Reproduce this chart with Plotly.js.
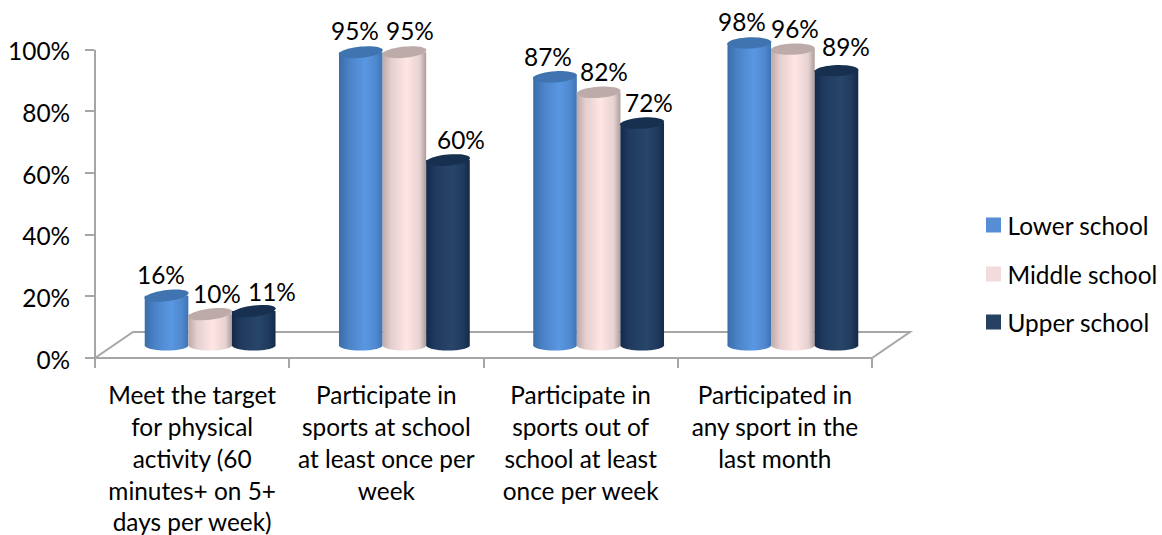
<!DOCTYPE html>
<html>
<head>
<meta charset="utf-8">
<script src="https://cdn.plot.ly/plotly-3.0.1.min.js"></script>
<style>html,body{margin:0;padding:0;background:#fff;overflow:hidden}</style>
</head>
<body>
<div id="chart" style="width:1162px;height:535px"></div>
<script>
var categories = [
  "Meet the target<br>for physical<br>activity (60<br>minutes+ on 5+<br>days per week)",
  "Participate in<br>sports at school<br>at least once per<br>week",
  "Participate in<br>sports out of<br>school at least<br>once per week",
  "Participated in<br>any sport in the<br>last month"
];
var seriesNames = ["Lower school", "Middle school", "Upper school"];
var lowerSchool = [16, 95, 87, 98];
var middleSchool = [10, 95, 82, 96];
var upperSchool = [11, 60, 72, 89];
var yTicks = [0, 20, 40, 60, 80, 100];

var allValues = [lowerSchool, middleSchool, upperSchool];

// plot geometry
var pxPerCat = 194.25, pxPerPct = 3.08;
var plotW = 815, plotH = 338.8;
var depthX = 38, depthY = 26;
var barW = 43.6 / pxPerCat;
var shiftX = 18 / pxPerCat;
var lift = 13 / pxPerPct;
var capRx = 22, capRy = 5.6;
var font = "Lato, Carlito, sans-serif";
var fontSize = 24.4;
var txt = "#000";
var grey = "#A6A6A6";

var legendColors = ["#558ED5", "#F2DCDB", "#254061"];
var capColors = ["#3F74B0", "#BDABAA", "#17304F"];
var gradients = [
  [["0", "#3A6CA8"], ["0.22", "#4A82C6"], ["0.6", "#5A97E2"], ["0.85", "#4F88CE"], ["1", "#3E74B4"]],
  [["0", "#BFA9A8"], ["0.2", "#E4CFCE"], ["0.55", "#FFE6E5"], ["0.85", "#E6D2D1"], ["1", "#AD9C9B"]],
  [["0", "#14294A"], ["0.2", "#1F3A5E"], ["0.6", "#284669"], ["0.85", "#1F3A5C"], ["1", "#142A48"]]
];
var labelDx = [[-6, 7, 18], [-6, 6, 13], [-7, 5, 7], [-7, 2, 10]];
var labelDy = [21, 21, 20, 22, 22, 21, 20, 21, 21, 21, 21, 24];

// pixel-sized shape paths: positive y points up from the anchor
function ellipsePath(tilt, halfOnly) {
  var pts = [];
  var n = 40, to = halfOnly ? Math.PI : 2 * Math.PI;
  for (var i = 0; i <= n; i++) {
    var a = to * i / n;
    var cx = capRx * Math.cos(a);
    var cy = -capRy * Math.sin(a);
    pts.push((cx).toFixed(2) + "," + (cy + tilt * cx / capRx).toFixed(2));
  }
  return "M" + pts.join("L") + "Z";
}

var traces = [], shapes = [], annotations = [];

// frame: back/front floor edges and value axis
shapes.push({type: "path", xref: "paper", yref: "paper", layer: "below",
  path: "M0,0L" + (depthX / plotW) + "," + (depthY / plotH) + "L1," + (depthY / plotH) +
        "L" + (777 / plotW) + ",0Z",
  line: {color: grey, width: 2}, fillcolor: "rgba(0,0,0,0)"});
shapes.push({type: "line", xref: "paper", yref: "paper", layer: "below",
  x0: 0, x1: 0, y0: 0, y1: 100 / 110, line: {color: grey, width: 2}});

var bottomIdx = [];
allValues.forEach(function (vals, s) {
  var off = (s - 1.5) * barW + shiftX;
  traces.push({
    type: "bar", name: seriesNames[s], x: categories, y: vals, base: lift,
    offset: off, width: barW, cliponaxis: false,
    marker: {color: legendColors[s], line: {width: 0}}, hoverinfo: "skip"
  });
  vals.forEach(function (v, g) {
    var cx = g + off + barW / 2;
    bottomIdx.push([shapes.length, s]);
    shapes.push({type: "path", layer: "below", xref: "x", yref: "y",
      xsizemode: "pixel", ysizemode: "pixel", xanchor: cx, yanchor: lift,
      path: ellipsePath(0, true), line: {width: 0}, fillcolor: legendColors[s]});
  });
});
allValues.forEach(function (vals, s) {
  var off = (s - 1.5) * barW + shiftX;
  vals.forEach(function (v, g) {
    var cx = g + off + barW / 2;
    var tilt = 2.6 - 0.6 * g;
    shapes.push({type: "path", layer: "above", xref: "x", yref: "y",
      xsizemode: "pixel", ysizemode: "pixel", xanchor: cx, yanchor: v + lift,
      path: ellipsePath(tilt, false), line: {width: 0}, fillcolor: capColors[s]});
    annotations.push({xref: "x", yref: "y", x: cx, y: v + lift, text: v + "%",
      showarrow: false, xshift: labelDx[g][s], yshift: labelDy[g * 3 + s],
      font: {family: font, size: fontSize, color: txt}});
  });
});

var layout = {
  width: 1162, height: 535,
  margin: {l: 95, r: 252, t: 19.2, b: 177, pad: 0, autoexpand: false},
  paper_bgcolor: "#fff", plot_bgcolor: "rgba(0,0,0,0)",
  barmode: "overlay",
  font: {family: font, size: fontSize, color: txt},
  xaxis: {
    type: "category", categoryorder: "array", categoryarray: categories,
    range: [-0.5, -0.5 + plotW / pxPerCat], autorange: false,
    tickson: "boundaries", ticks: "outside", ticklen: 9, tickwidth: 2, tickcolor: grey,
    showgrid: false, zeroline: false, showline: false, tickangle: 0, ticklabelstandoff: 21,
    tickfont: {family: font, size: fontSize, color: txt}
  },
  yaxis: {
    range: [0, 110], autorange: false, tickmode: "array", tickvals: yTicks,
    ticktext: yTicks.map(function (t) { return t + "%"; }),
    ticks: "outside", ticklen: 9, tickwidth: 2, tickcolor: grey,
    showgrid: false, zeroline: false, showline: false, ticklabelstandoff: 10, ticklabelshift: 2,
    tickfont: {family: font, size: fontSize, color: txt}
  },
  legend: {
    xanchor: "left", yanchor: "top", traceorder: "normal",
    font: {family: font, size: fontSize, color: txt},
    bgcolor: "rgba(0,0,0,0)", borderwidth: 0
  },
  showlegend: true,
  shapes: shapes, annotations: annotations
};

Plotly.newPlot("chart", traces, layout, {displayModeBar: false, staticPlot: true}).then(function () {
  var gd = document.getElementById("chart");
  var svg = gd.querySelector(".main-svg");
  var NS = "http://www.w3.org/2000/svg";
  var defs = svg.querySelector("defs");
  gradients.forEach(function (stops, s) {
    var g = document.createElementNS(NS, "linearGradient");
    g.setAttribute("id", "cyl" + s);
    g.setAttribute("x1", "0"); g.setAttribute("x2", "1");
    g.setAttribute("y1", "0"); g.setAttribute("y2", "0");
    stops.forEach(function (st) {
      var e = document.createElementNS(NS, "stop");
      e.setAttribute("offset", st[0]);
      e.setAttribute("stop-color", st[1]);
      g.appendChild(e);
    });
    defs.appendChild(g);
  });
  gd.querySelectorAll(".barlayer .trace").forEach(function (t, s) {
    t.querySelectorAll(".point path").forEach(function (p) {
      p.style.fill = "url(#cyl" + s + ")";
    });
  });
  var shapePaths = gd.querySelectorAll(".shapelayer path");
  bottomIdx.forEach(function (b) {
    shapePaths.forEach(function (p) {
      if (+p.getAttribute("data-index") === b[0]) p.style.fill = "url(#cyl" + b[1] + ")";
    });
  });
  // legend placement: rows, swatch size and spacing
  var rowY = [225, 274, 322];
  var legend = gd.querySelector(".legend");
  var scroll = legend.querySelector(".scrollbox");
  scroll.removeAttribute("clip-path");
  scroll.style.clipPath = "none";
  legend.setAttribute("transform", "translate(973.5,0)");
  gd.querySelectorAll(".legend .traces").forEach(function (r, i) {
    var sw = r.querySelector(".legendpoints path");
    if (sw) sw.setAttribute("d", "M7.5,7.5H-7.5V-7.5H7.5Z");
    var text = r.querySelector("text.legendtext");
    if (text) text.setAttribute("x", "34");
    r.setAttribute("transform", "translate(0," + rowY[i] + ")");
  });
});
</script>
</body>
</html>
